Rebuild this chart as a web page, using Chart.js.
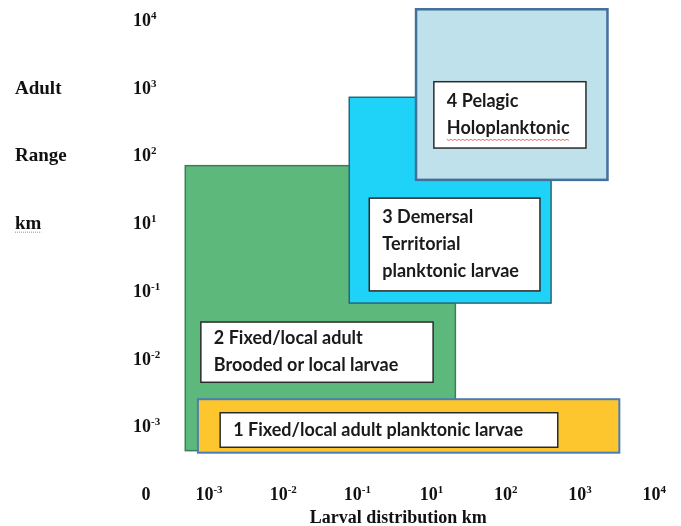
<!DOCTYPE html>
<html>
<head>
<meta charset="utf-8">
<title>Adult range vs larval distribution</title>
<script src="https://cdn.jsdelivr.net/npm/chart.js@4.4.1/dist/chart.umd.min.js"></script>
<style>
    html, body { margin: 0; padding: 0; background: #ffffff; }
    #wrap { width: 681px; height: 526px; }
</style>
</head>
<body>
<div id="wrap"><canvas id="zoneChart" width="681" height="526"></canvas></div>
<script>
(function() {
    'use strict';

    // Axis ticks: slot position on the axis and the power of ten shown there (null = plain "0")
    var xTickSlots = [0.15, 1, 2, 3, 4, 5, 6, 7];
    var xTickPowers = [null, -3, -2, -1, 1, 2, 3, 4];
    var yTickSlots = [1, 2, 3, 4, 5, 6, 7];
    var yTickPowers = [-3, -2, -1, 1, 2, 3, 4];
    var yTitleSlots = [6, 5, 4];
    var yTitleWords = ['Adult', 'Range', 'km'];
    var xTitle = 'Larval distribution km';

    // Zones, in axis slot units (x = larval distribution, y = adult range)
    var zoneNames = ['green', 'yellow', 'cyan', 'pale'];
    var zoneXFrom = [0.68, 0.85, 2.89, 3.79];
    var zoneXTo = [4.32, 6.53, 5.61, 6.37];
    var zoneYFrom = [0.64, 0.61, 2.82, 4.64];
    var zoneYTo = [4.85, 1.40, 5.86, 7.16];

    // Zone labels
    var labelLines = [
        ['2 Fixed/local adult', 'Brooded or local larvae'],
        ['1 Fixed/local adult planktonic larvae'],
        ['3 Demersal', 'Territorial', 'planktonic larvae'],
        ['4 Pelagic', 'Holoplanktonic']
    ];
    var labelXFrom = [0.89, 1.15, 3.16, 4.03];
    var labelXTo = [4.02, 5.70, 5.46, 6.08];
    var labelYFrom = [1.65, 0.69, 3.00, 5.11];
    var labelYTo = [2.54, 1.20, 4.37, 6.09];

    var zoneStyles = {
        green: { fill: '#5cb97b', border: '#3f7d58', width: 1.5 },
        yellow: { fill: '#fdc62e', border: '#4a7db8', width: 2 },
        cyan: { fill: '#1ed3f7', border: '#2d6476', width: 1.5 },
        pale: { fill: '#bfe1eb', border: '#41709c', width: 2.5 }
    };

    var serifBold = 'bold 18px "Liberation Serif", "Times New Roman", serif';
    var titleBold = 'bold 19px "Liberation Serif", "Times New Roman", serif';
    var serifSup = 'bold 11px "Liberation Serif", "Times New Roman", serif';
    var boxFont = 'bold 18px Lato, "Open Sans", sans-serif';

    function rectFor(chart, x0, x1, y0, y1) {
        var xs = chart.scales.x;
        var ys = chart.scales.y;
        var left = xs.getPixelForValue(x0);
        var right = xs.getPixelForValue(x1);
        var top = ys.getPixelForValue(y1);
        var bottom = ys.getPixelForValue(y0);
        return { left: left, top: top, w: right - left, h: bottom - top };
    }

    function drawPower(ctx, power, x, y, align) {
        var base = '10';
        var sup = power === null ? '' : String(power);
        if (power === null) base = '0';
        ctx.font = serifBold;
        var wBase = ctx.measureText(base).width;
        ctx.font = serifSup;
        var wSup = sup ? ctx.measureText(sup).width : 0;
        var total = wBase + wSup;
        var startX = align === 'center' ? x - total / 2 : x;
        ctx.textAlign = 'left';
        ctx.textBaseline = 'alphabetic';
        ctx.font = serifBold;
        ctx.fillText(base, startX, y + 6);
        if (sup) {
            ctx.font = serifSup;
            ctx.fillText(sup.replace('-', '\u2011'), startX + wBase, y - 1);
        }
    }

    var zonePlugin = {
        id: 'zonePlugin',
        afterDatasetsDraw: function(chart) {
            var ctx = chart.ctx;
            var xs = chart.scales.x;
            var ys = chart.scales.y;
            ctx.save();

            zoneNames.forEach(function(name, i) {
                var st = zoneStyles[name];
                var r = rectFor(chart, zoneXFrom[i], zoneXTo[i], zoneYFrom[i], zoneYTo[i]);
                ctx.fillStyle = st.fill;
                ctx.fillRect(r.left, r.top, r.w, r.h);
                ctx.strokeStyle = st.border;
                ctx.lineWidth = st.width;
                ctx.strokeRect(r.left, r.top, r.w, r.h);
            });

            labelLines.forEach(function(lines, i) {
                var r = rectFor(chart, labelXFrom[i], labelXTo[i], labelYFrom[i], labelYTo[i]);
                ctx.fillStyle = '#ffffff';
                ctx.fillRect(r.left, r.top, r.w, r.h);
                ctx.strokeStyle = '#2b2b2b';
                ctx.lineWidth = 1.5;
                ctx.strokeRect(r.left, r.top, r.w, r.h);

                ctx.font = boxFont;
                ctx.fillStyle = '#1a1a1a';
                ctx.textAlign = 'left';
                ctx.textBaseline = 'middle';
                var lineH = 27;
                var firstY = r.top + r.h / 2 - (lines.length - 1) * lineH / 2;
                lines.forEach(function(line, k) {
                    var ty = firstY + k * lineH;
                    ctx.fillText(line, r.left + 13, ty);
                    if (line === 'Holoplanktonic') {
                        var tw = ctx.measureText(line).width;
                        ctx.strokeStyle = '#e86a64';
                        ctx.lineWidth = 1;
                        ctx.beginPath();
                        for (var px = 0; px <= tw; px += 2) {
                            var py = ty + 11 + ((px / 2) % 2 === 0 ? 0 : 1);
                            if (px === 0) ctx.moveTo(r.left + 13 + px, py);
                            else ctx.lineTo(r.left + 13 + px, py);
                        }
                        ctx.stroke();
                    }
                });
            });

            // tick labels
            ctx.fillStyle = '#111111';
            xTickSlots.forEach(function(v, i) {
                drawPower(ctx, xTickPowers[i], xs.getPixelForValue(v), ys.getPixelForValue(0), 'center');
            });
            yTickSlots.forEach(function(v, i) {
                drawPower(ctx, yTickPowers[i], 133, ys.getPixelForValue(v), 'left');
            });

            // axis titles
            ctx.font = titleBold;
            ctx.textAlign = 'left';
            ctx.textBaseline = 'alphabetic';
            yTitleWords.forEach(function(word, i) {
                var ty = ys.getPixelForValue(yTitleSlots[i]) + 6;
                ctx.fillText(word, 15, ty);
                if (word === 'km') {
                    var kw = ctx.measureText(word).width;
                    ctx.strokeStyle = '#5fb86a';
                    ctx.lineWidth = 1;
                    ctx.setLineDash([1, 1]);
                    ctx.beginPath();
                    ctx.moveTo(15, ty + 3);
                    ctx.lineTo(15 + kw, ty + 3);
                    ctx.stroke();
                    ctx.setLineDash([]);
                }
            });
            ctx.font = serifBold;
            ctx.textAlign = 'center';
            ctx.fillText(xTitle, xs.getPixelForValue(3.55), 523);

            ctx.restore();
        }
    };

    var ctx = document.getElementById('zoneChart').getContext('2d');
    new Chart(ctx, {
        type: 'scatter',
        data: { datasets: [{ data: [], showLine: false }] },
        options: {
            responsive: false,
            animation: false,
            devicePixelRatio: 1,
            layout: { padding: 0 },
            plugins: {
                legend: { display: false },
                tooltip: { enabled: false }
            },
            scales: {
                x: { type: 'linear', min: -1.817, max: 7.361, display: false },
                y: { type: 'linear', min: -0.473, max: 7.297, display: false }
            }
        },
        plugins: [zonePlugin]
    });
})();
</script>
</body>
</html>
